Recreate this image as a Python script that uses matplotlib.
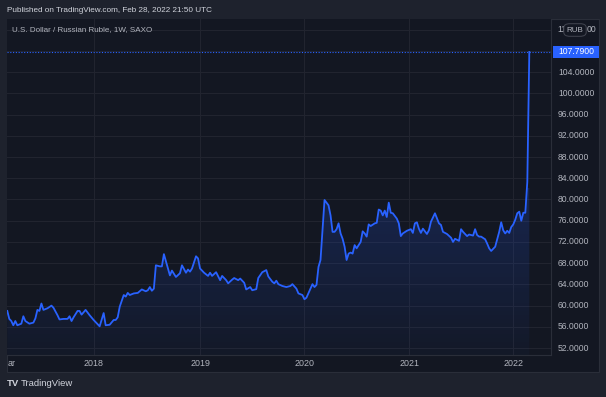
"""USD/RUB weekly line chart, TradingView dark style"""

import numpy as np
import pandas as pd
import matplotlib
matplotlib.use("Agg")
import matplotlib.pyplot as plt
import matplotlib.dates as mdates
from matplotlib.colors import LinearSegmentedColormap
from matplotlib.patches import Rectangle, FancyBboxPatch

# weekly bars, counted from the first bar (2017-03-06)
start = pd.Timestamp("2017-03-06")
weeks = [0, 1, 2, 3, 4, 5, 7, 8, 9, 11, 13, 14, 15, 16, 17, 18, 20, 22, 23, 25, 26,
         28, 30, 31, 32, 33, 35, 36, 37, 39, 41, 43, 45, 46, 48, 49, 51, 53, 54, 55, 56,
         58, 59, 60, 61, 63, 65, 67, 69, 70, 71, 72, 73, 74, 76, 77, 78, 80, 81, 82, 84,
         86, 87, 89, 90, 91, 92, 94, 95, 96, 98, 100, 101, 102, 104, 106, 107, 109, 110, 112, 113,
         115, 116, 118, 119, 121, 122, 124, 125, 127, 128, 129, 130, 132, 133, 134, 135, 137, 139, 141, 142,
         144, 145, 147, 148, 149, 151, 152, 153, 154, 155, 156, 157, 158, 160, 161, 162, 163, 164, 165, 166,
         167, 168, 169, 170, 171, 172, 173, 174, 176, 177, 178, 179, 180, 181, 183, 184, 185, 186, 187, 188,
         189, 190, 191, 192, 194, 195, 196, 197, 199, 201, 202, 203, 204, 205, 206, 207, 209, 210, 211, 213,
         215, 216, 217, 219, 221, 222, 223, 225, 226, 227, 229, 230, 232, 233, 234, 235, 236, 238, 239, 240,
         241, 243, 244, 245, 246, 247, 248, 249, 250, 251, 252, 253, 254, 255, 256, 257, 258, 259, 260]
usdrub = [59.0, 57.5, 57.1, 56.3, 57.1, 56.3, 56.6, 58.0, 57.1, 56.6, 56.8, 57.6, 59.2, 59.0, 60.4, 59.2, 59.5, 60.0, 59.6, 58.2,
          57.4, 57.5, 57.5, 58.0, 57.1, 57.8, 59.0, 59.0, 58.3, 59.2, 58.2, 57.3, 56.5, 56.1, 58.6, 56.3, 56.4, 57.3, 57.3, 57.8,
          59.8, 62.0, 61.7, 62.4, 62.0, 62.3, 62.4, 63.05, 62.7, 62.9, 63.5, 62.8, 63.2, 67.6, 67.4, 67.4, 69.7, 67.0, 65.7, 66.6,
          65.4, 66.1, 67.6, 66.2, 66.8, 66.4, 67.0, 69.3, 68.9, 67.0, 66.2, 65.6, 66.2, 65.6, 66.3, 64.8, 65.6, 64.8, 64.2, 64.9,
          65.2, 64.8, 65.1, 64.3, 63.05, 63.5, 62.9, 63.1, 65.2, 66.3, 66.5, 66.7, 65.5, 64.5, 64.2, 64.7, 64.05, 63.7, 63.5, 63.7,
          64.05, 63.2, 62.3, 62.0, 61.2, 61.5, 63.2, 64.05, 63.5, 63.9, 67.3, 68.6, 74.2, 79.9, 78.9, 77.0, 73.9, 73.9, 74.4, 75.5,
          73.6, 72.6, 71.1, 68.6, 69.8, 70.0, 69.8, 71.4, 70.8, 72.0, 74.0, 73.6, 73.0, 75.3, 75.0, 75.5, 75.6, 78.1, 77.9, 77.0,
          77.9, 76.7, 79.4, 77.5, 77.4, 76.4, 75.5, 73.1, 73.6, 74.1, 74.4, 73.7, 75.5, 75.7, 74.5, 73.7, 74.5, 73.5, 74.2, 75.8,
          77.4, 75.5, 75.2, 73.9, 73.5, 72.8, 72.0, 72.6, 72.2, 74.4, 73.9, 73.1, 73.4, 73.2, 74.4, 73.3, 73.0, 73.0, 72.5, 71.7,
          70.8, 70.3, 71.1, 72.5, 73.9, 75.7, 74.2, 73.6, 74.1, 73.7, 74.8, 75.3, 76.2, 77.4, 77.7, 76.0, 77.5, 77.5, 83.3, 107.79]

price_ticks = np.arange(52, 113, 4)
label_ticks = np.arange(52, 105, 4)   # 108 is hidden by the last-value marker, 112 by the badge
year_ticks = ["2018-01-01", "2019-01-07", "2020-01-06", "2021-01-04", "2022-01-03"]
year_labels = ["2018", "2019", "2020", "2021", "2022"]
last_price = 107.79

BG = "#1e222d"
PANEL = "#131722"
GRID = "#21242f"
BORDER = "#2a2e39"
BLUE = "#2962ff"
TXT = "#b2b5be"
FONT = "Liberation Sans"

W, H = 606, 397
fig = plt.figure(figsize=(W / 100, H / 100), dpi=100, facecolor=BG)


def fx(px):
    return px / W


def fy(py):
    return 1 - py / H


# chart panel incl. price and time scales
fig.patches.append(Rectangle((fx(7), fy(372)), fx(592), 353 / H, transform=fig.transFigure,
                             facecolor=PANEL, edgecolor=BORDER, lw=0.8, zorder=-5))

ax = fig.add_axes([fx(7), fy(355), fx(544), 336 / H])
ax.set_facecolor(PANEL)

dates = start + pd.to_timedelta(np.array(weeks) * 7, unit="D")
xs = mdates.date2num(dates)

x0 = mdates.date2num(start - pd.Timedelta(days=1))
x1 = mdates.date2num(start + pd.Timedelta(weeks=270.8))
ymin, ymax = 50.7, 114.0

# gradient area under the line
poly = ax.fill_between(xs, usdrub, ymin, facecolor="none", edgecolor="none")
cmap = LinearSegmentedColormap.from_list("fade", [(0.16, 0.38, 1.0, 0.03), (0.16, 0.38, 1.0, 0.20)])
grad = np.linspace(0, 1, 256).reshape(-1, 1)
im = ax.imshow(grad, extent=[x0, x1, ymin, 82], origin="lower", aspect="auto", cmap=cmap, zorder=1)
im.set_clip_path(poly.get_paths()[0], transform=ax.transData)
ax.set_xlim(x0, x1)
ax.set_ylim(ymin, ymax)

ax.plot(xs, usdrub, color=BLUE, lw=1.3, zorder=3, solid_joinstyle="round")
ax.axhline(last_price, color=BLUE, lw=0.8, ls=(0, (1, 1.5)), zorder=2)

ax.set_yticks(price_ticks)
ax.set_xticks(mdates.date2num(pd.to_datetime(year_ticks)))
ax.grid(True, color=GRID, lw=0.8)
ax.set_axisbelow(True)
ax.tick_params(length=0, labelleft=False, labelbottom=False)
for s in ax.spines.values():
    s.set_visible(False)
ax.spines["right"].set_visible(True)
ax.spines["right"].set_color(BORDER)
ax.spines["bottom"].set_visible(True)
ax.spines["bottom"].set_color(BORDER)

# price scale labels
for v in label_ticks:
    ax.text(1.0 + 7 / 544, v, f"{v:.4f}", transform=ax.get_yaxis_transform(),
            va="center", ha="left", color=TXT, fontsize=6.2, family=FONT, clip_on=False)

# currency badge sitting on the 112 label
fig.text(fx(557), fy(30), "11", ha="left", va="center", color=TXT, fontsize=6.2, family=FONT)
fig.patches.append(FancyBboxPatch((fx(565), fy(35.5)), fx(20), 11 / H, boxstyle="round,pad=0.002,rounding_size=0.01",
                                  transform=fig.transFigure, facecolor=PANEL, edgecolor="#434651", lw=0.7, zorder=5))
fig.text(fx(575), fy(30), "RUB", ha="center", va="center", color=TXT, fontsize=5.8, family=FONT, zorder=6)
fig.text(fx(587), fy(30), "00", ha="left", va="center", color=TXT, fontsize=6.2, family=FONT)

# last value marker
fig.patches.append(Rectangle((fx(553), fy(58)), fx(46), 12 / H, transform=fig.transFigure,
                             facecolor=BLUE, edgecolor="none", zorder=5))
fig.text(fx(576), fy(52), f"{last_price:.4f}", ha="center", va="center", color="white",
         fontsize=6.2, family=FONT, zorder=6)

# time scale labels
for d, lab in zip(year_ticks, year_labels):
    ax.text(mdates.date2num(pd.Timestamp(d)) + 1, -9 / 336, lab, transform=ax.get_xaxis_transform(),
            ha="center", va="center", color=TXT, fontsize=6.4, family=FONT)
fig.text(fx(8), fy(364), "ar", ha="left", va="center", color=TXT, fontsize=6.4, family=FONT)

# header, title, footer
fig.text(fx(7), fy(11), "Published on TradingView.com, Feb 28, 2022 21:50 UTC", ha="left", va="center",
         color="#d1d4dc", fontsize=5.9, family=FONT)
fig.text(fx(12), fy(29.5), "U.S. Dollar / Russian Ruble, 1W, SAXO", ha="left", va="center",
         color=TXT, fontsize=5.8, family=FONT)
fig.text(fx(7), fy(384), "TV", ha="left", va="center", color="#d1d4dc", fontsize=6.8,
         family=FONT, weight="bold")
fig.text(fx(21), fy(384), "TradingView", ha="left", va="center", color="#d1d4dc", fontsize=6.8, family=FONT)

fig.savefig("out.png", dpi=100, facecolor=BG)
